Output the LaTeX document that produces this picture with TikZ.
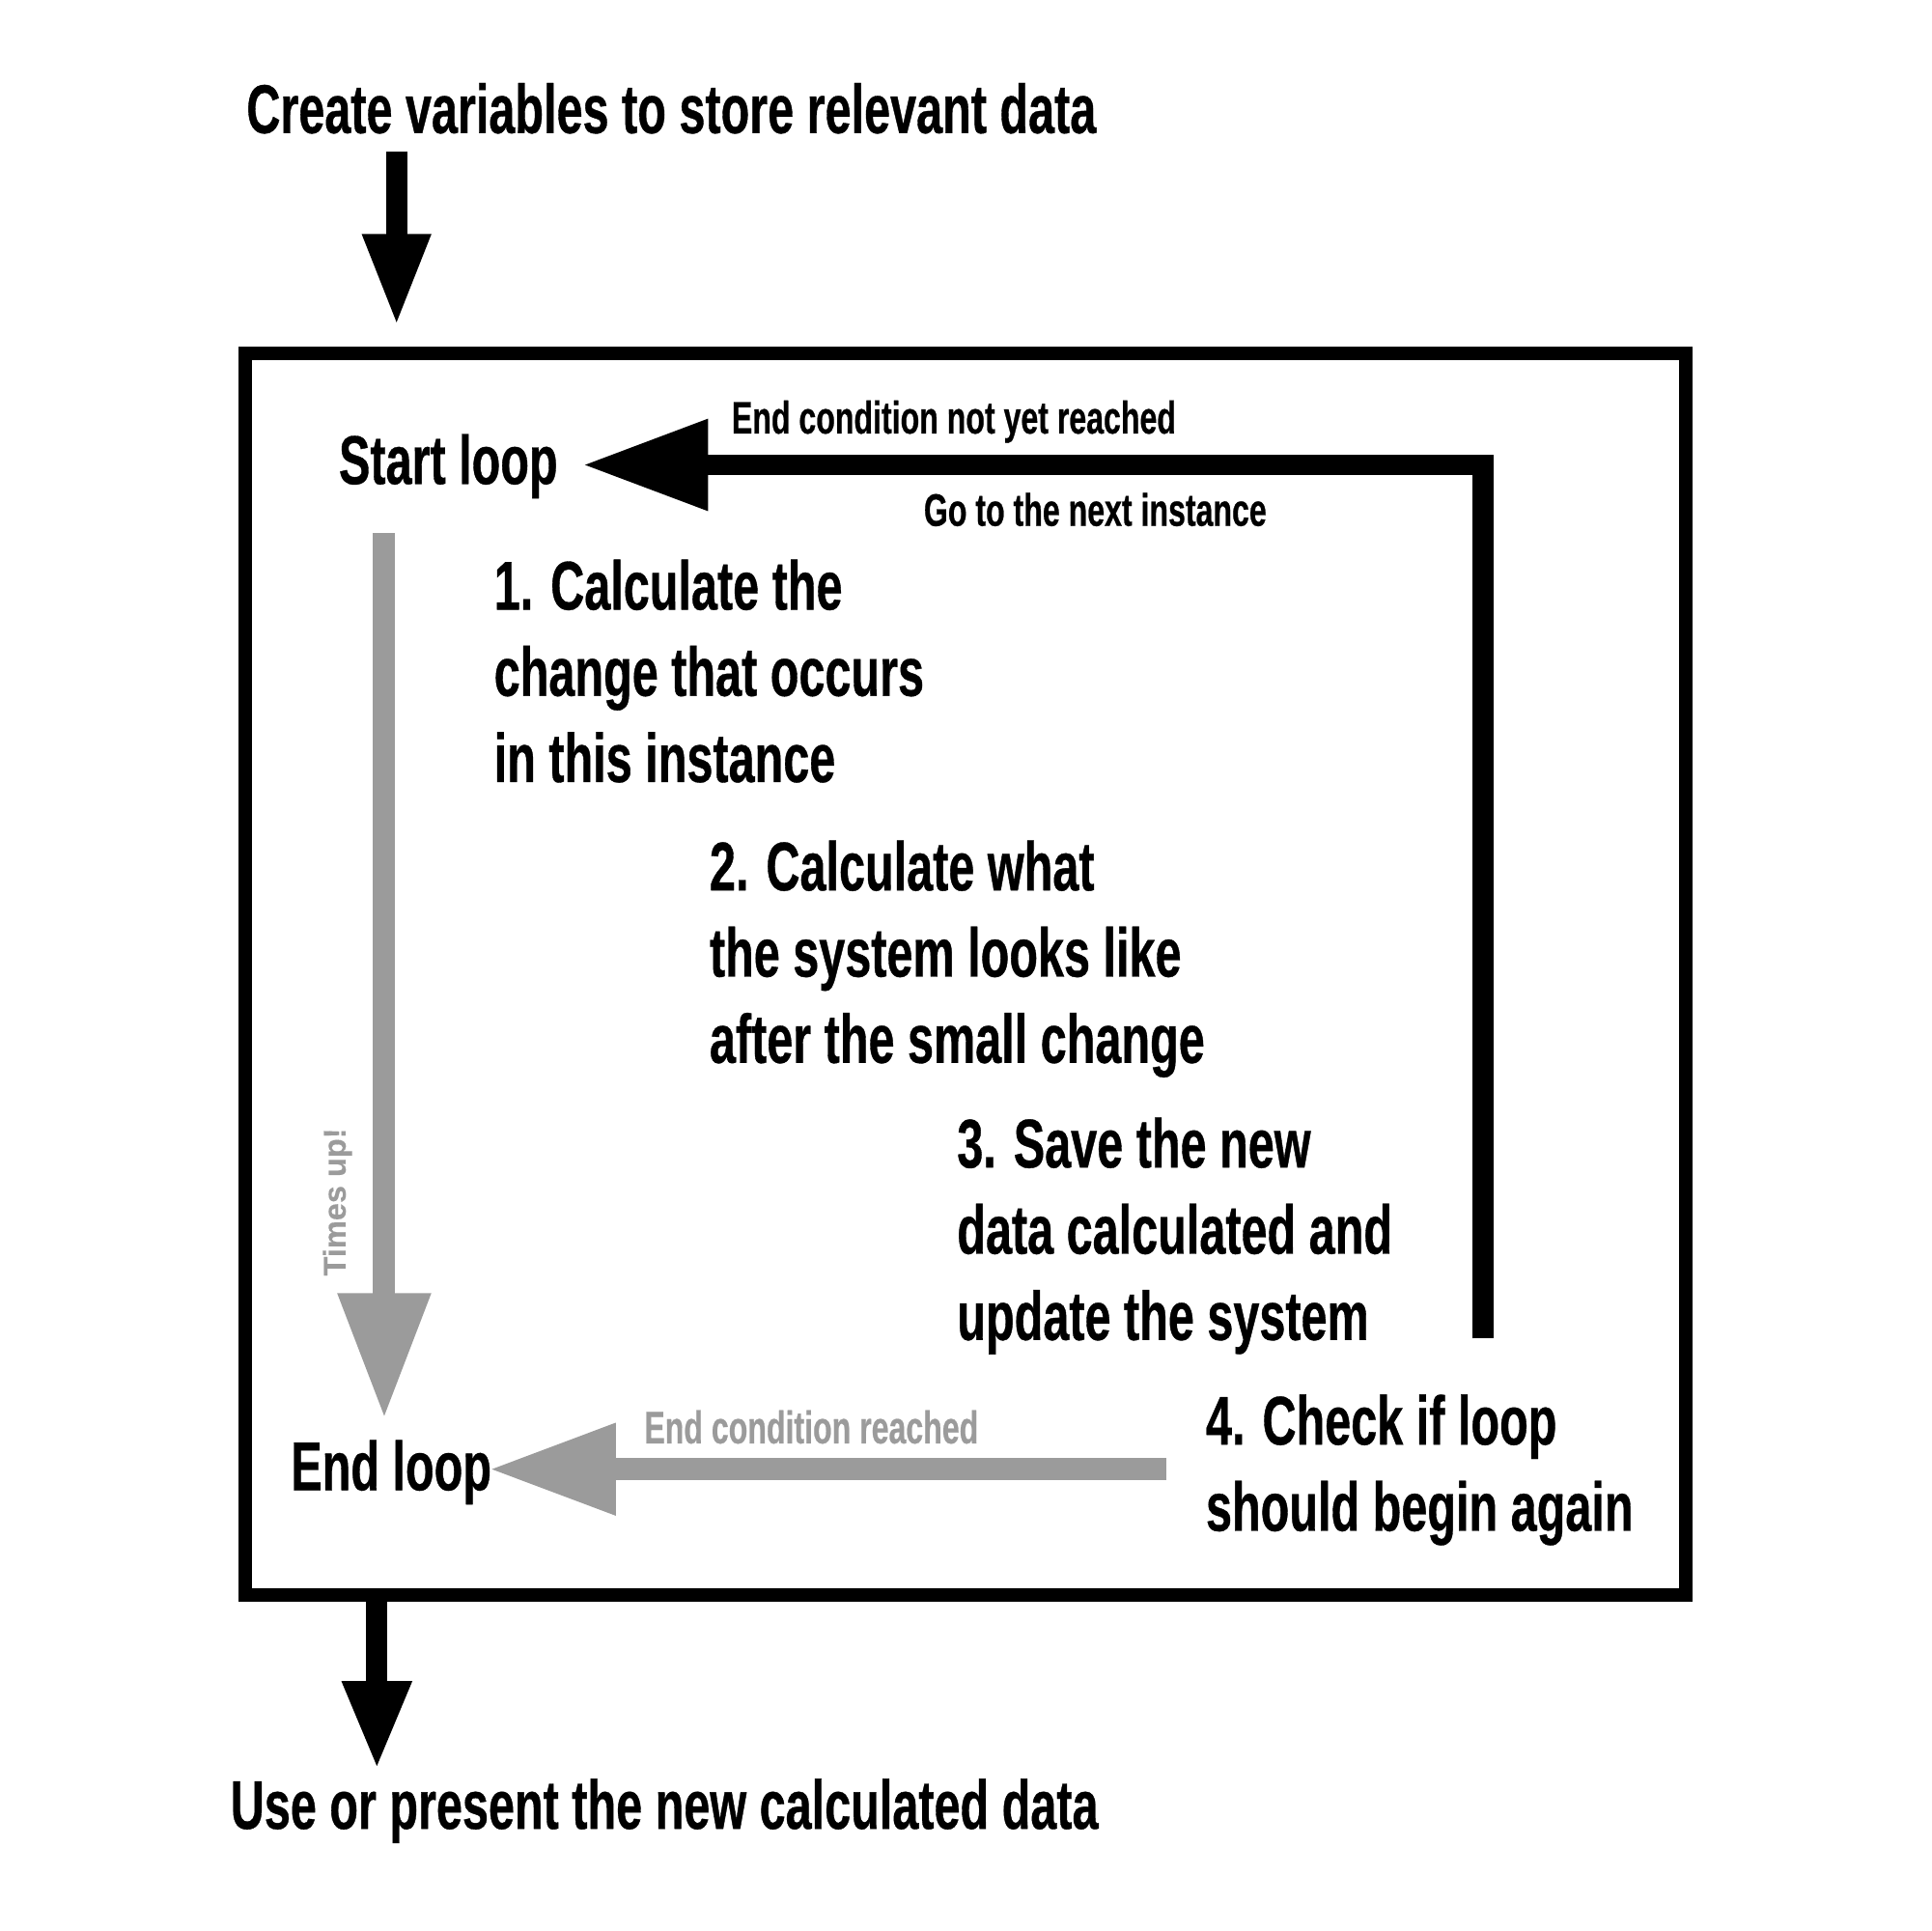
\documentclass[tikz,border=0pt]{standalone}
\usepackage{fontspec}
\usetikzlibrary{arrows.meta}
\newfontfamily\condfont[FakeStretch=0.68,FakeBold=0.5]{Liberation Sans}
\newfontfamily\plainfont[FakeBold=0.3]{Liberation Sans}
\definecolor{arrowgray}{RGB}{155,155,155}
\newcommand{\stacklines}[1]{\begin{tabular}[t]{@{}l@{}}#1\end{tabular}}
\begin{document}
\begin{tikzpicture}[x=1pt,y=-1pt,
  big/.style={font=\condfont\bfseries\fontsize{56}{70}\selectfont, inner sep=0pt, anchor=base west},
  small/.style={font=\condfont\bfseries\fontsize{37}{44}\selectfont, inner sep=0pt, anchor=base west},
  blk/.style={draw=black, line width=17pt},
  gry/.style={draw=arrowgray, line width=18pt},
]
\useasboundingbox (0,0) rectangle (1568,1568);
% texts
\node[big] (title) at (200,108) {Create variables to store relevant data};
\node[big] (result) at (187,1485) {Use or present the new calculated data};
\node[big] (start) at (275,393) {Start loop};
\node[big] (end) at (236,1210) {End loop};
\node[big] (s1) at (401,495) {\stacklines{1. Calculate the\\change that occurs\\in this instance}};
\node[big] (s2) at (576,723) {\stacklines{2. Calculate what\\the system looks like\\after the small change}};
\node[big] (s3) at (777,948) {\stacklines{3. Save the new\\data calculated and\\update the system}};
\node[big] (s4) at (979,1173) {\stacklines{4. Check if loop\\should begin again}};
\node[small] (l1) at (594,352) {End condition not yet reached};
\node[small] (l2) at (750,427) {Go to the next instance};
\node[small, text=arrowgray] (l3) at (523,1172) {End condition reached};
\node[font=\plainfont\bfseries\fontsize{25.5}{30}\selectfont, text=arrowgray, inner sep=0pt, rotate=90] (l4) at (274,976) {Times up!};
% frame
\node[draw, line width=11pt, minimum width=1170pt, minimum height=1008pt, inner sep=0pt] (box) at (784,791) {};
% connector end points
\coordinate (t0) at (322,123);
\coordinate (t1) at (322,265);
\coordinate (b0) at (306,1295);
\coordinate (b1) at (306,1437);
\coordinate (k0) at (1204,1087);
\coordinate (k1) at (1204,377.5);
\coordinate (k2) at (473,377.5);
\coordinate (g0) at (312,433);
\coordinate (g1) at (312,1152);
\coordinate (h0) at (947,1193);
\coordinate (h1) at (397,1193);
% arrows
\draw[blk, -{Triangle[length=75pt,width=51pt]}] (t0) -- (t1);
\draw[blk, -{Triangle[length=72pt,width=52pt]}] (b0) -- (b1);
\draw[blk, line join=miter, -{Triangle[length=102pt,width=70pt]}] (k0) -- (k1) -- (k2);
\draw[gry, -{Triangle[length=102pt,width=71pt]}] (g0) -- (g1);
\draw[gry, -{Triangle[length=103pt,width=70pt]}] (h0) -- (h1);
\end{tikzpicture}
\end{document}
